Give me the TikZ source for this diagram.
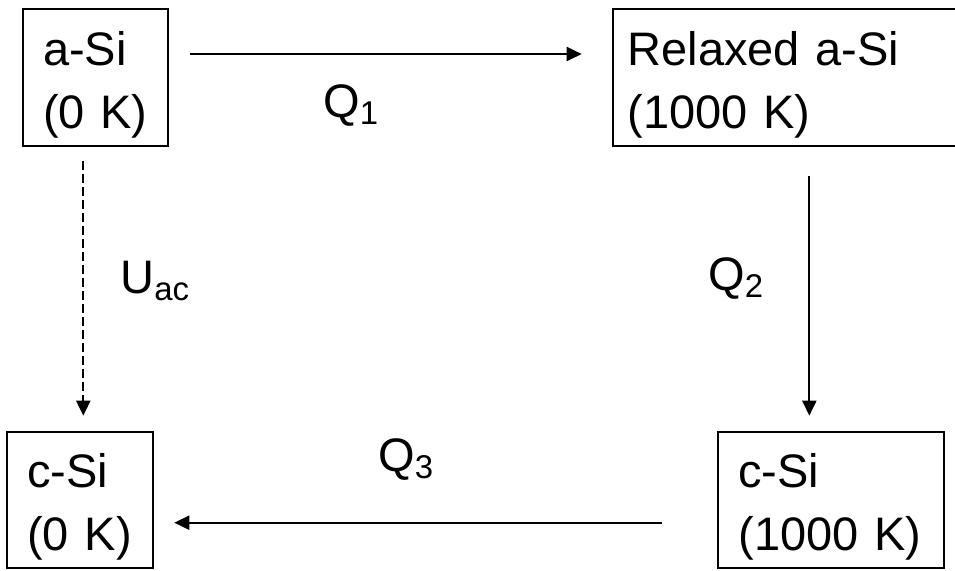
\documentclass[tikz,border=0pt]{standalone}
\usepackage{fontspec}
\setmainfont{Liberation Sans}
\usepackage{tikz}
\usetikzlibrary{arrows.meta}

\begin{document}
\begin{tikzpicture}[x=0.5pt,y=-0.5pt,
    state/.style={draw,line width=1pt,align=left,inner xsep=10pt,inner ysep=0pt,
        font=\fontsize{23.5}{31.5}\selectfont,execute at begin node=\rule{0pt}{24pt}},
    lbl/.style={inner sep=0pt,anchor=base west,font=\fontsize{23.5}{28.5}\selectfont},
    flow/.style={-{Triangle[length=7.5pt,width=7pt]},line width=1pt}]
    \useasboundingbox (0,0) rectangle (955,570);
    \node[state,text width=52.5pt,minimum height=68.5pt] (asi) at (95.5,77.5) {\mbox{a-Si}\\\mbox{(0 K)}};
    \node[state,inner xsep=7.5pt,text width=157.65pt,minimum height=68.5pt] (relax) at (785.35,77.5) {\mbox{Relaxed a-Si}\\\mbox{(1000 K)}};
    \node[state,text width=52.7pt,minimum height=68pt] (csi0) at (80,500.3) {\mbox{c-Si}\\\mbox{(0 K)}};
    \node[state,text width=92.85pt,minimum height=68pt] (csi1000) at (831.2,500.3) {\mbox{c-Si}\\\mbox{(1000 K)}};
    \draw[flow,shorten <=10.65pt,shorten >=15pt] ([yshift=11.75pt]asi.east) -- ([yshift=11.75pt]relax.west);
    \draw[flow,shorten <=14.5pt,shorten >=7.8pt] ([xshift=12pt]relax.south) -- ([xshift=12pt]relax.south |- csi1000.north);
    \draw[flow,shorten <=27.65pt,shorten >=10.3pt] ([yshift=-11.2pt]csi1000.west) -- ([yshift=-11.2pt]csi0.east);
    \draw[flow,dash pattern=on 4.5pt off 2pt,shorten <=7pt,shorten >=7.8pt] ([xshift=-6.1pt]asi.south) -- ([xshift=-6.1pt]asi.south |- csi0.north);
    \node[lbl] (q1) at (323,117) {Q\textsubscript{1}};
    \node[lbl] (q2) at (708,290) {Q\textsubscript{2}};
    \node[lbl] (q3) at (378,471) {Q\textsubscript{3}};
    \node[lbl] (uac) at (120,293) {U\textsubscript{ac}};
\end{tikzpicture}
\end{document}
